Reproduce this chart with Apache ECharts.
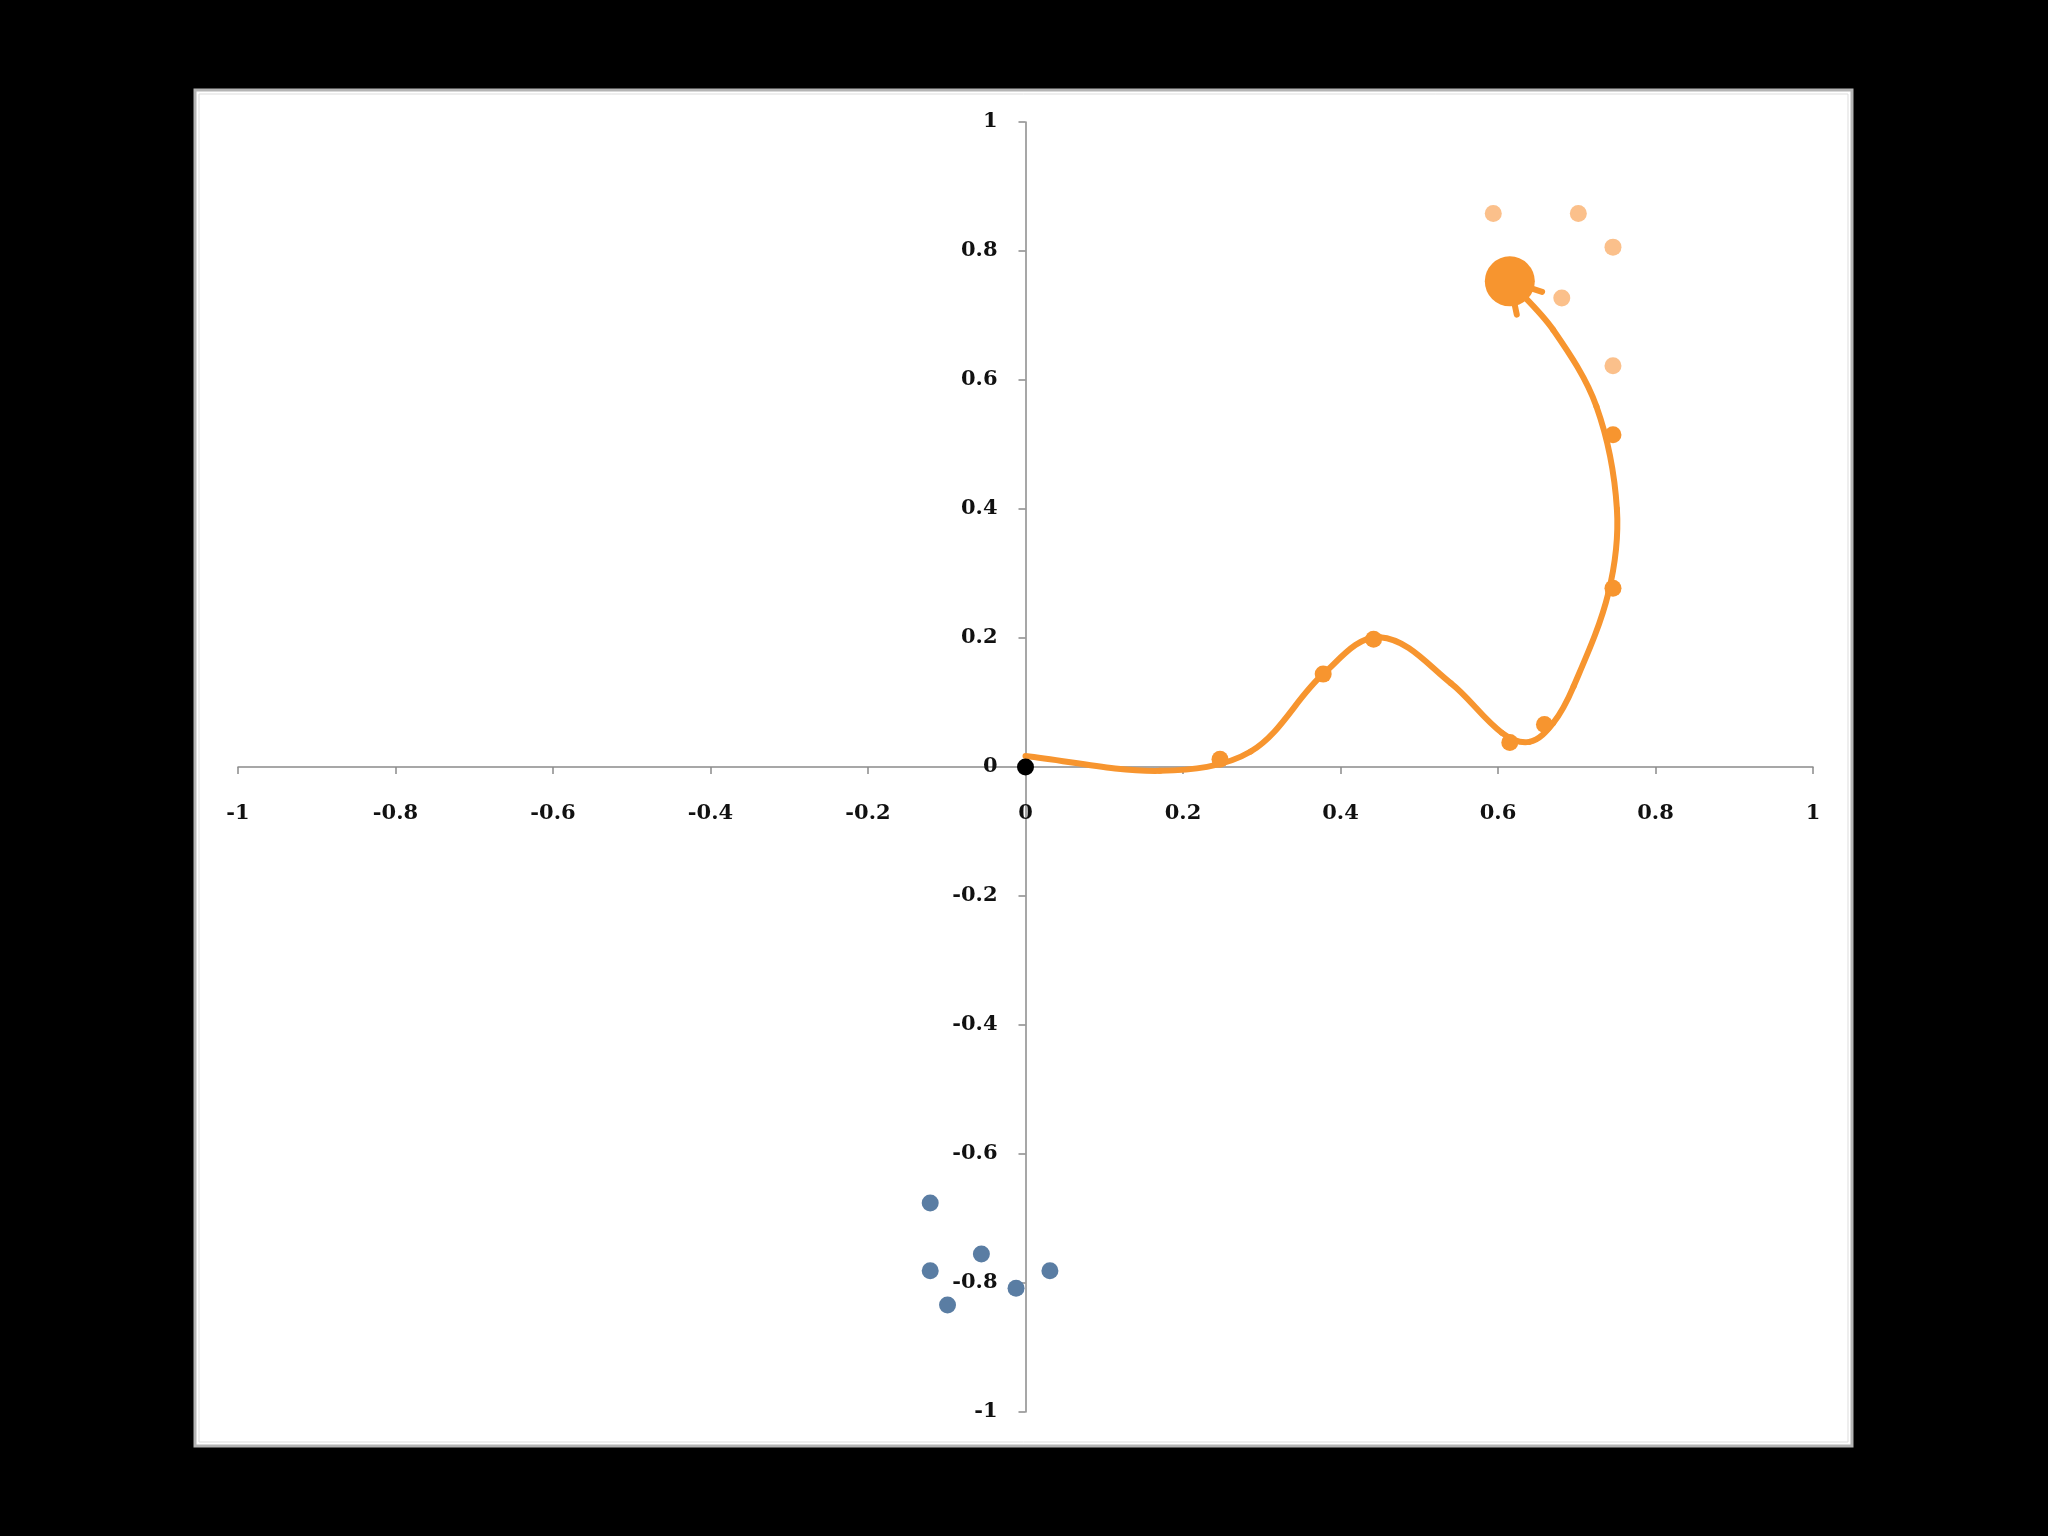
<!DOCTYPE html>
<html>
<head>
<meta charset="utf-8">
<script src="https://cdn.jsdelivr.net/npm/echarts@6/dist/echarts.min.js"></script>
<style>
html,body{margin:0;padding:0;background:#000;}
#chart{width:2048px;height:1536px;}
</style>
</head>
<body>
<div id="chart"></div>
<script>
// Tick labels come from axis min/max/interval
var axisMin = -1, axisMax = 1, axisStep = 0.2;

// Trajectory curve: points read along the drawn smooth path
var curveX = [0, 0.171, 0.286, 0.378, 0.450, 0.540, 0.605, 0.640, 0.670, 0.696, 0.740, 0.751, 0.725, 0.670, 0.615];
var curveY = [0.017, -0.006, 0.024, 0.144, 0.201, 0.130, 0.053, 0.039, 0.068, 0.125, 0.269, 0.400, 0.559, 0.678, 0.753];

// Markers along the curve
var trackX = [0.247, 0.378, 0.442, 0.615, 0.659, 0.746, 0.746];
var trackY = [0.012, 0.144, 0.198, 0.038, 0.066, 0.277, 0.515];

// Current (large) point
var headX = [0.615];
var headY = [0.753];

// Light orange cluster
var lightX = [0.594, 0.702, 0.746, 0.681, 0.746];
var lightY = [0.858, 0.858, 0.806, 0.727, 0.622];

// Blue cluster
var blueX = [-0.121, -0.056, -0.121, 0.031, -0.012, -0.099];
var blueY = [-0.676, -0.755, -0.781, -0.781, -0.808, -0.834];

// Origin
var originX = [0];
var originY = [0];

function zip(a, b) { return a.map(function (v, i) { return [v, b[i]]; }); }

var ORANGE = '#F7952F';
var LINE_W = 6;

var chart = echarts.init(document.getElementById('chart'), null, {renderer: 'canvas'});
var labelFont = {fontFamily: 'DejaVu Serif', fontSize: 21, fontWeight: 'bold', color: '#111111'};
var axisLineStyle = {color: '#8a8a8a', width: 1.5};

var GRID = {left: 238, right: 235, top: 122, bottom: 124};
var gridW = 2048 - GRID.left - GRID.right;
var gridH = 1536 - GRID.top - GRID.bottom;

function unit(v) { var l = Math.sqrt(v[0] * v[0] + v[1] * v[1]) || 1; return [v[0] / l, v[1] / l]; }
function dist(a, b) { return Math.sqrt((a[0] - b[0]) * (a[0] - b[0]) + (a[1] - b[1]) * (a[1] - b[1])); }

function renderCurve(params, api) {
  var pts = curveX.map(function (x, i) { return api.coord([x, curveY[i]]); });
  var n = pts.length;
  var tan = pts.map(function (p, i) {
    var a = pts[Math.max(i - 1, 0)], b = pts[Math.min(i + 1, n - 1)];
    return unit([b[0] - a[0], b[1] - a[1]]);
  });
  var children = [];
  var style = {stroke: ORANGE, lineWidth: LINE_W, fill: null, lineCap: 'round', lineJoin: 'round'};
  for (var i = 0; i < n - 1; i++) {
    var p1 = pts[i], p2 = pts[i + 1];
    var d = dist(p1, p2) / 3;
    var c1 = [p1[0] + tan[i][0] * d, p1[1] + tan[i][1] * d];
    var c2 = [p2[0] - tan[i + 1][0] * d, p2[1] - tan[i + 1][1] * d];
    children.push({type: 'bezierCurve', shape: {x1: p1[0], y1: p1[1], x2: p2[0], y2: p2[1],
      cpx1: c1[0], cpy1: c1[1], cpx2: c2[0], cpy2: c2[1]}, style: style});
  }
  // open arrow head at the end of the curve
  var end = pts[n - 1];
  var dx = -tan[n - 1][0], dy = -tan[n - 1][1];
  var L = 34, ang = 30 * Math.PI / 180;
  [ang, -ang].forEach(function (a) {
    var rx = dx * Math.cos(a) - dy * Math.sin(a);
    var ry = dx * Math.sin(a) + dy * Math.cos(a);
    children.push({type: 'line', shape: {x1: end[0], y1: end[1], x2: end[0] + rx * L, y2: end[1] + ry * L},
      style: style});
  });
  return {type: 'group', children: children};
}

chart.setOption({
  backgroundColor: '#000000',
  animation: false,
  graphic: [
    {type: 'rect', z: -10, shape: {x: 195, y: 90, width: 1657, height: 1356},
     style: {fill: '#ffffff', stroke: '#b4b4b4', lineWidth: 3}},
    {type: 'rect', z: -9, shape: {x: 199, y: 94, width: 1649, height: 1348},
     style: {fill: null, stroke: '#dddddd', lineWidth: 1}}
  ],
  grid: GRID,
  xAxis: {
    type: 'value', min: axisMin, max: axisMax, interval: axisStep,
    position: 'bottom', offset: -gridH / 2,
    axisLine: {show: true, onZero: false, lineStyle: axisLineStyle},
    axisTick: {show: true, length: 7, lineStyle: axisLineStyle},
    splitLine: {show: false},
    axisLabel: Object.assign({margin: 36}, labelFont)
  },
  yAxis: {
    type: 'value', min: axisMin, max: axisMax, interval: axisStep,
    position: 'left', offset: -gridW / 2,
    axisLine: {show: true, onZero: false, lineStyle: axisLineStyle},
    axisTick: {show: true, length: 7, lineStyle: axisLineStyle},
    splitLine: {show: false},
    axisLabel: Object.assign({margin: 28}, labelFont)
  },
  series: [
    {type: 'custom', coordinateSystem: 'cartesian2d', data: [[curveX[0], curveY[0]]],
     renderItem: renderCurve, z: 3, silent: true, clip: false},
    {type: 'scatter', data: zip(trackX, trackY), symbolSize: 17,
     itemStyle: {color: ORANGE, opacity: 1}, z: 4},
    {type: 'scatter', data: zip(headX, headY), symbolSize: 50,
     itemStyle: {color: ORANGE, opacity: 1}, z: 5},
    {type: 'scatter', data: zip(lightX, lightY), symbolSize: 17,
     itemStyle: {color: '#FBC08B', opacity: 1}, z: 4},
    {type: 'scatter', data: zip(blueX, blueY), symbolSize: 17,
     itemStyle: {color: '#5A7DA3', opacity: 1}, z: 4},
    {type: 'scatter', data: zip(originX, originY), symbolSize: 17,
     itemStyle: {color: '#000000', opacity: 1}, z: 6}
  ]
});
</script>
</body>
</html>
